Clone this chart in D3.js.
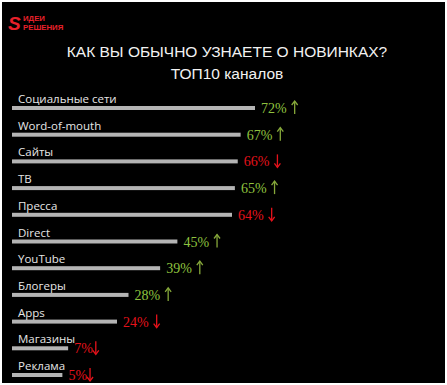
<!DOCTYPE html>
<html>
<head>
<meta charset="utf-8">
<script src="https://cdn.jsdelivr.net/npm/d3@7"></script>
<style>
  body { margin: 0; background: #fff; }
</style>
</head>
<body>
<div id="chart"></div>
<script>
// data
var channels = ["Социальные сети", "Word-of-mouth", "Сайты", "ТВ", "Пресса", "Direct", "YouTube", "Блогеры", "Apps", "Магазины", "Реклама"];
var shares = [72, 67, 66, 65, 64, 45, 39, 28, 24, 7, 5];
var trend = ["up", "up", "down", "up", "down", "up", "up", "up", "down", "down", "down"];

const width = 447, height = 385;
const green = "#8fc23f", red = "#e4121b";

var svg = d3.select("#chart").append("svg")
    .attr("width", width)
    .attr("height", height);

// black card
svg.append("rect")
    .attr("x", 2).attr("y", 2)
    .attr("width", 443).attr("height", 381)
    .attr("fill", "#000");

// logo
var logo = svg.append("g").attr("fill", "#e8202a");
logo.append("text")
    .attr("x", 8).attr("y", 30)
    .attr("font-family", "Liberation Sans, Arial, sans-serif")
    .attr("font-style", "italic")
    .attr("font-weight", "bold")
    .attr("font-size", 19)
    .text("S");
logo.append("text")
    .attr("x", 23).attr("y", 20.5)
    .attr("font-family", "Liberation Sans, Arial, sans-serif")
    .attr("font-weight", "bold")
    .attr("font-size", 7.8)
    .text("ИДЕИ");
logo.append("text")
    .attr("x", 23).attr("y", 30)
    .attr("font-family", "Liberation Sans, Arial, sans-serif")
    .attr("font-weight", "bold")
    .attr("font-size", 7.8)
    .text("РЕШЕНИЯ");

// title
svg.append("text")
    .attr("x", 227).attr("y", 57)
    .attr("text-anchor", "middle")
    .attr("fill", "#f2f2f2")
    .attr("font-family", "Liberation Sans, Arial, sans-serif")
    .attr("font-size", 15.5)
    .text("КАК ВЫ ОБЫЧНО УЗНАЕТЕ О НОВИНКАХ?");
svg.append("text")
    .attr("x", 227).attr("y", 79)
    .attr("text-anchor", "middle")
    .attr("fill", "#f2f2f2")
    .attr("font-family", "Liberation Sans, Arial, sans-serif")
    .attr("font-size", 15.5)
    .text("ТОП10 каналов");

// scales
var x = d3.scaleLinear().domain([0, 72]).range([36, 243]);
var y = d3.scalePoint().domain(channels).range([108, 375]);
const x0 = 12;

var rows = svg.selectAll("g.row")
    .data(channels)
    .enter().append("g")
    .attr("class", "row")
    .attr("transform", function (d) { return "translate(0," + y(d) + ")"; });

rows.append("rect")
    .attr("x", x0)
    .attr("y", -2)
    .attr("width", function (d, i) { return x(shares[i]); })
    .attr("height", 4)
    .attr("fill", "#b4b4b4");

rows.append("text")
    .attr("x", x0 + 6)
    .attr("y", -5)
    .attr("fill", "#e6e6e6")
    .attr("font-family", "Open Sans, DejaVu Sans, sans-serif")
    .attr("font-size", 11.5)
    .text(function (d) { return d; });

var values = rows.append("text")
    .attr("x", function (d, i) { return x0 + x(shares[i]) + 6; })
    .attr("y", 5)
    .attr("fill", function (d, i) { return trend[i] === "up" ? green : red; })
    .attr("font-family", "Liberation Serif, Times New Roman, serif")
    .attr("font-size", 14)
    .text(function (d, i) { return shares[i] + "%"; });

// thin tall arrows after each value
values.each(function (d, i) {
    var end = x0 + x(shares[i]) + 6 + this.getComputedTextLength();
    var ax = end + (shares[i] < 10 ? 3 : 8);
    var up = trend[i] === "up";
    var col = up ? "#86a83a" : red;
    var g = d3.select(this.parentNode).append("g")
        .attr("fill", "none")
        .attr("stroke", col)
        .attr("stroke-width", 1.3);
    g.append("line")
        .attr("x1", ax).attr("x2", ax)
        .attr("y1", -7).attr("y2", 6);
    g.append("path")
        .attr("d", up
            ? "M" + (ax - 3) + ",-3 L" + ax + ",-7 L" + (ax + 3) + ",-3"
            : "M" + (ax - 3) + ",2 L" + ax + ",6 L" + (ax + 3) + ",2");
});
</script>
</body>
</html>
